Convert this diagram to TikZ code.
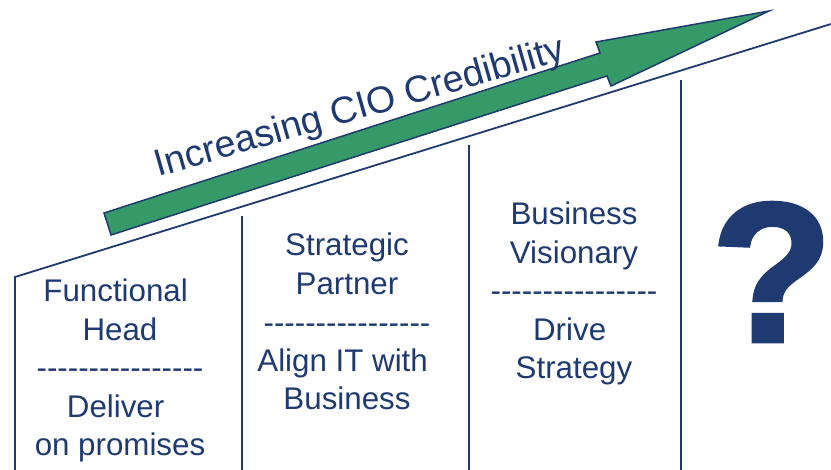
\documentclass[tikz,border=0pt]{standalone}
\usepackage{fontspec}
\setmainfont{Liberation Sans}
\newfontfamily\heavyfont[FakeBold=2.2]{Liberation Sans Bold}
\definecolor{navy}{RGB}{31,58,112}
\definecolor{arrowgreen}{RGB}{53,153,104}
% width of a trailing word space kept at a line end
\newcommand{\tsp}{\hbox to 0.278em{}}
% a row of sixteen plain hyphens (no dash ligatures)
\newcommand{\dashrow}{-{}-{}-{}-{}-{}-{}-{}-{}-{}-{}-{}-{}-{}-{}-{}-{}}
\begin{document}
\begin{tikzpicture}[x=1pt,y=-1pt,
  edge/.style={draw=navy,line width=1.8pt},
  label/.style={text=navy,align=center,inner sep=0pt,anchor=base,
    font=\fontsize{31.3}{38.5}\selectfont},
  banner/.style={fill=arrowgreen,draw=navy,line width=1.5pt,line join=miter}]
\useasboundingbox (0,0) rectangle (831,470);

% roof line and column walls
\coordinate (roofL) at (15,277);
\coordinate (roofR) at (831,24);
\coordinate (wallA) at (15,470);
\coordinate (d1t) at (242,216);
\coordinate (d1b) at (242,470);
\coordinate (d2t) at (469,145);
\coordinate (d2b) at (469,470);
\coordinate (d3t) at (681,80);
\coordinate (d3b) at (681,470);
\draw[edge] (wallA) -- (roofL) -- (roofR);
\draw[edge] (d1t) -- (d1b);
\draw[edge] (d2t) -- (d2b);
\draw[edge] (d3t) -- (d3b);

% rising arrow
\coordinate (tailT) at (104,213);
\coordinate (tailB) at (111,235);
\coordinate (notchB) at (607,76);
\coordinate (barbB) at (611,86);
\coordinate (tip) at (769,11);
\coordinate (barbT) at (596,42);
\coordinate (notchT) at (600,53);
\draw[banner] (tailT) -- (tailB) -- (notchB) -- (barbB) -- (tip) -- (barbT) -- (notchT) -- cycle;

\node (title) [text=navy,inner sep=0pt,anchor=base west,rotate=16,
  font=\fontsize{37.5}{44}\selectfont] at (158,177) {Increasing CIO Credibility};

% column texts (anchored at the baseline of their last line)
\node (c1) [label] at (120,456) {Functional\tsp\\Head\\\dashrow\\Deliver\tsp\\on promises};
\node (c2) [label] at (347,410) {Strategic\\Partner\\\dashrow\\Align IT with\tsp\\Business};
\node (c3) [label] at (574,379) {Business\\Visionary\\\dashrow\\Drive\tsp\\Strategy};

\node (q) [text=navy,inner sep=0pt,font=\heavyfont\fontsize{198}{198}\selectfont] at (772,272) {?};
\end{tikzpicture}
\end{document}
